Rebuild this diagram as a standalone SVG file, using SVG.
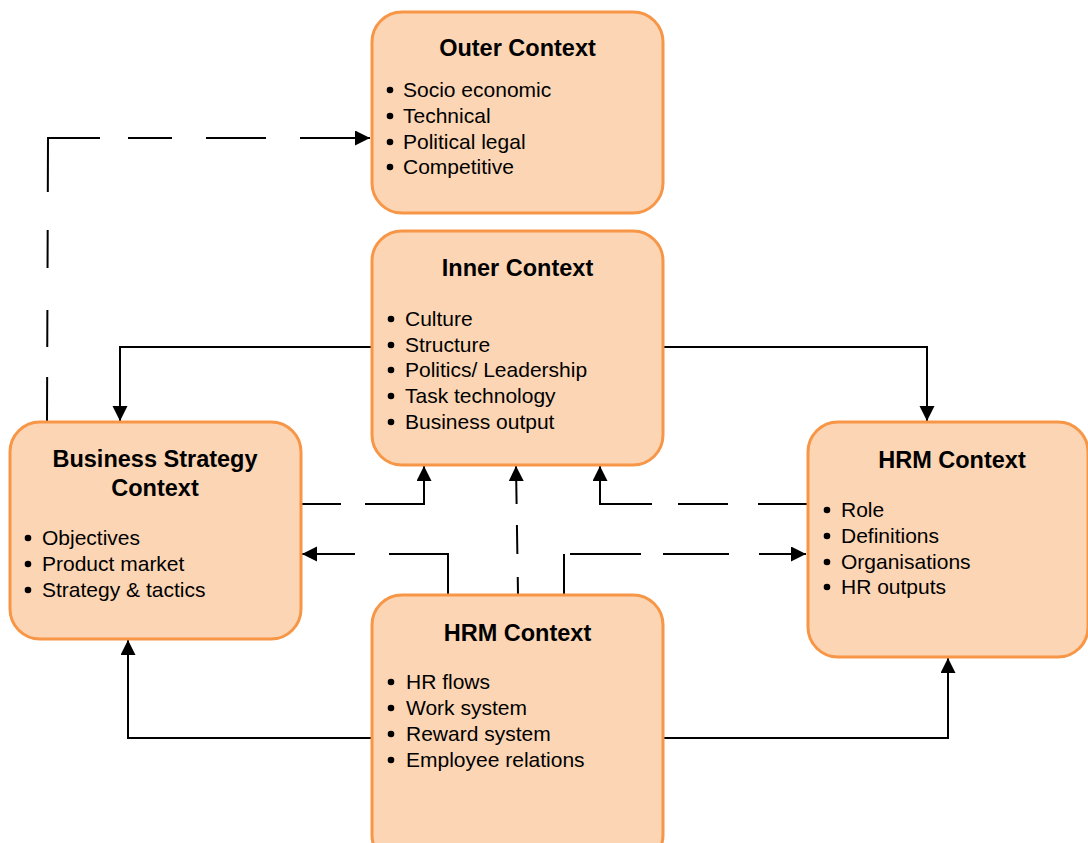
<svg xmlns="http://www.w3.org/2000/svg" width="1088" height="843" viewBox="0 0 1088 843">
  <style>
    .box { fill: #FCD5B4; stroke: #F79646; stroke-width: 3; }
    .title { font-family: "Liberation Sans", Arial, sans-serif; font-size: 23.5px; font-weight: bold; fill: #000; text-anchor: middle; }
    .item { font-family: "Liberation Sans", Arial, sans-serif; font-size: 21px; fill: #000; }
    .dot { fill: #000; }
    .link { fill: none; stroke: #000; stroke-width: 2; marker-end: url(#arrow); }
  </style>
  <defs>
    <marker id="arrow" markerUnits="userSpaceOnUse" markerWidth="17" markerHeight="17" refX="15" refY="7.5" orient="auto">
      <path d="M0,0 L15,7.5 L0,15 Z" fill="#000"/>
    </marker>
    <circle id="bullet" r="3.3"/>
  </defs>

  <rect width="1088" height="843" fill="#fff"/>

  <!-- connectors -->
  <g id="connectors">
    <!-- business strategy -> outer context -->
    <path class="link" d="M47,422 L48,138 H370" stroke-dasharray="45 30 37 42 38 38 106 28 44 34 60 34 300"/>
    <!-- inner context -> business strategy -->
    <path class="link" d="M372,347 H120 V421"/>
    <!-- inner context -> HRM (right) -->
    <path class="link" d="M663,347 H927 V421"/>
    <!-- business strategy -> inner context -->
    <path class="link" d="M301,504 H424 V466" stroke-dasharray="40 24 300"/>
    <!-- HRM (right) -> inner context -->
    <path class="link" d="M807,504 H600 V466" stroke-dasharray="49 30 50 26 300"/>
    <!-- HRM (bottom) -> inner context -->
    <path class="link" d="M518,594 L516,466" stroke-dasharray="17 23 29 21 300"/>
    <!-- HRM (bottom) -> business strategy -->
    <path class="link" d="M448,594 V554 H302" stroke-dasharray="99 34 300"/>
    <!-- HRM (bottom) -> HRM (right) -->
    <path class="link" d="M564,594 V554 H806" stroke-dasharray="40 6 71 22 66 30 300"/>
    <!-- HRM (bottom) -> business strategy (below) -->
    <path class="link" d="M372,738 H128 V640"/>
    <!-- HRM (bottom) -> HRM (right, below) -->
    <path class="link" d="M663,738 H948 V658"/>
  </g>

  <g id="outer-context">
    <rect class="box" x="372" y="12" width="291" height="201" rx="30" ry="30"/>
    <text class="title" x="517.5" y="56">Outer Context</text>
    <g class="dot">
      <use href="#bullet" x="390" y="90"/><use href="#bullet" x="390" y="116"/>
      <use href="#bullet" x="390" y="142"/><use href="#bullet" x="390" y="167"/>
    </g>
    <g class="item">
      <text x="403" y="97">Socio economic</text>
      <text x="403" y="123">Technical</text>
      <text x="403" y="149">Political legal</text>
      <text x="403" y="174">Competitive</text>
    </g>
  </g>

  <g id="inner-context">
    <rect class="box" x="372" y="231" width="291" height="234" rx="30" ry="30"/>
    <text class="title" x="517.5" y="276">Inner Context</text>
    <g class="dot">
      <use href="#bullet" x="391" y="319"/><use href="#bullet" x="391" y="345"/>
      <use href="#bullet" x="391" y="370"/><use href="#bullet" x="391" y="396"/>
      <use href="#bullet" x="391" y="422"/>
    </g>
    <g class="item">
      <text x="405" y="326">Culture</text>
      <text x="405" y="352">Structure</text>
      <text x="405" y="377">Politics/ Leadership</text>
      <text x="405" y="403">Task technology</text>
      <text x="405" y="429">Business output</text>
    </g>
  </g>

  <g id="business-strategy-context">
    <rect class="box" x="10" y="422" width="291" height="217" rx="30" ry="30"/>
    <text class="title" x="155" y="467">Business Strategy</text>
    <text class="title" x="155" y="496">Context</text>
    <g class="dot">
      <use href="#bullet" x="28" y="538"/><use href="#bullet" x="28" y="564"/>
      <use href="#bullet" x="28" y="590"/>
    </g>
    <g class="item">
      <text x="42" y="545">Objectives</text>
      <text x="42" y="571">Product market</text>
      <text x="42" y="597">Strategy &amp; tactics</text>
    </g>
  </g>

  <g id="hrm-context-right">
    <rect class="box" x="808" y="422" width="280" height="235" rx="30" ry="30"/>
    <text class="title" x="952" y="468">HRM Context</text>
    <g class="dot">
      <use href="#bullet" x="827" y="510"/><use href="#bullet" x="827" y="536"/>
      <use href="#bullet" x="827" y="562"/><use href="#bullet" x="827" y="587"/>
    </g>
    <g class="item">
      <text x="841" y="517">Role</text>
      <text x="841" y="543">Definitions</text>
      <text x="841" y="569">Organisations</text>
      <text x="841" y="594">HR outputs</text>
    </g>
  </g>

  <g id="hrm-context-bottom">
    <rect class="box" x="372" y="595" width="291" height="270" rx="30" ry="30"/>
    <text class="title" x="517.5" y="641">HRM Context</text>
    <g class="dot">
      <use href="#bullet" x="391" y="682"/><use href="#bullet" x="391" y="708"/>
      <use href="#bullet" x="391" y="734"/><use href="#bullet" x="391" y="760"/>
    </g>
    <g class="item">
      <text x="406" y="689">HR flows</text>
      <text x="406" y="715">Work system</text>
      <text x="406" y="741">Reward system</text>
      <text x="406" y="767">Employee relations</text>
    </g>
  </g>
</svg>
